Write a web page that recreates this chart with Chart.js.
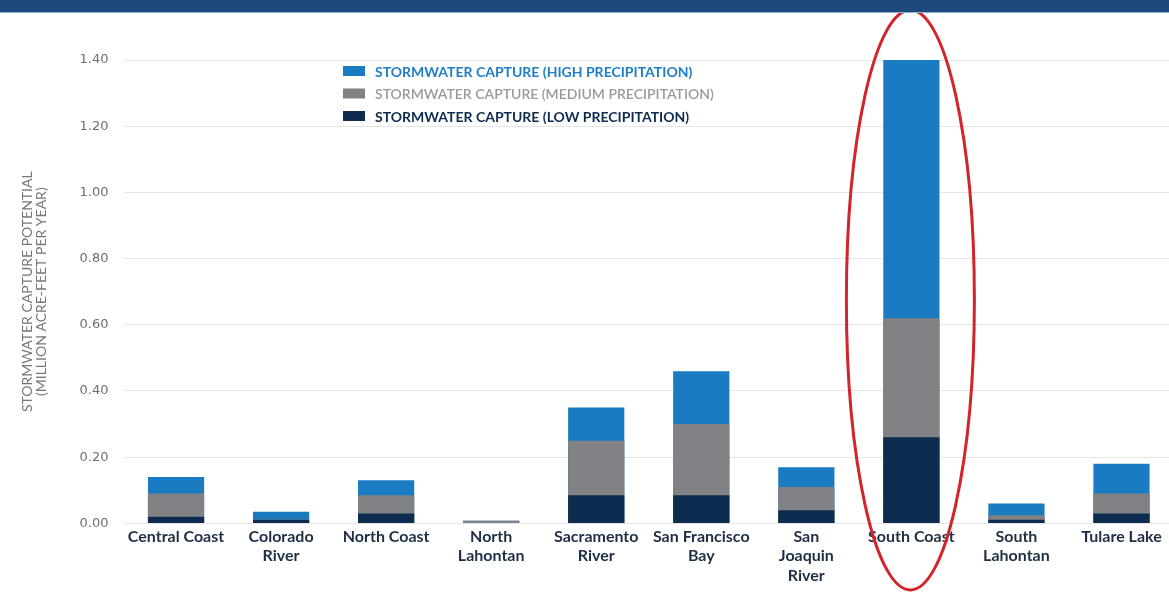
<!DOCTYPE html>
<html>
<head>
<meta charset="utf-8">
<script src="https://cdn.jsdelivr.net/npm/chart.js@4"></script>
<style>
  body { margin: 0; overflow: hidden; background: #fff; }
  #band { position: absolute; left: 0; top: 0; width: 1169px; height: 12px; background: #1c4a7b; border-bottom: 1px solid #8fb1d2; }
  #wrap { position: absolute; left: 0; top: 0; width: 1174px; height: 594px; }
</style>
</head>
<body>
<div id="wrap"><canvas id="chart"></canvas></div>
<div id="band"></div>
<script>
"use strict";

// regions along the x axis
const regions = [
  "Central Coast", ["Colorado", "River"], "North Coast", ["North", "Lahontan"],
  ["Sacramento", "River"], ["San Francisco", "Bay"], ["San", "Joaquin", "River"],
  "South Coast", ["South", "Lahontan"], "Tulare Lake"
];

// million acre-feet per year, each value
const highPrecip = [0.14, 0.035, 0.13, 0.008, 0.35, 0.46, 0.17, 1.40, 0.06, 0.18];
const mediumPrecip = [0.09, 0.012, 0.085, 0.008, 0.25, 0.30, 0.11, 0.62, 0.025, 0.09];
const lowPrecip = [0.02, 0.011, 0.03, 0.001, 0.085, 0.085, 0.04, 0.26, 0.011, 0.03];

const seriesLabels = [
  "STORMWATER CAPTURE (HIGH PRECIPITATION)",
  "STORMWATER CAPTURE (MEDIUM PRECIPITATION)",
  "STORMWATER CAPTURE (LOW PRECIPITATION)"
];
const yTicks = [0, 0.2, 0.4, 0.6, 0.8, 1.0, 1.2, 1.4];

const colours = ["#1b7bc2", "#808285", "#0d2c4f"];
const textColours = ["#1f7fc4", "#9a9a9c", "#0d2c4f"];
const font = "Lato, 'Noto Sans', sans-serif";

// legend drawn inside the plot, plus the red ring round South Coast
const extras = {
  id: "extras",
  afterDraw(chart) {
    const ctx = chart.ctx;
    ctx.save();
    seriesLabels.forEach((label, i) => {
      const y = 71 + i * 22.5;
      ctx.fillStyle = colours[i];
      ctx.fillRect(343, y - 5, 22, 10);
      ctx.fillStyle = textColours[i];
      ctx.font = (i === 1 ? "600 " : "bold ") + "14px " + font;
      ctx.textBaseline = "middle";
      ctx.fillText(label, 375, y + 1);
    });
    const x = chart.scales.x.getPixelForValue(7);
    ctx.strokeStyle = "#d3232b";
    ctx.lineWidth = 3;
    ctx.beginPath();
    ctx.ellipse(x - 1, 300, 64, 290, 0, 0, Math.PI * 2);
    ctx.stroke();
    ctx.restore();
  }
};

// bars overlap: the lowest value is drawn last so it sits on top
const data = {
  labels: regions,
  datasets: [
    { label: seriesLabels[0], data: highPrecip, backgroundColor: colours[0], order: 3 },
    { label: seriesLabels[1], data: mediumPrecip, backgroundColor: colours[1], order: 2 },
    { label: seriesLabels[2], data: lowPrecip, backgroundColor: colours[2], order: 1 }
  ]
};

const config = {
  type: "bar",
  data: data,
  plugins: [extras],
  options: {
    responsive: true,
    maintainAspectRatio: false,
    animation: false,
    layout: { padding: { top: 60, left: 0, right: 0, bottom: 5 } },
    datasets: { bar: { categoryPercentage: 1, barPercentage: 0.535 } },
    plugins: { legend: { display: false }, tooltip: { enabled: false } },
    scales: {
      x: {
        stacked: true,
        grid: { display: false, drawTicks: false },
        border: { display: false },
        ticks: {
          color: "#1e2f45",
          font: { family: font, size: 16, weight: "bold", lineHeight: 1.2 },
          padding: 4,
          maxRotation: 0,
          autoSkip: false
        }
      },
      y: {
        stacked: false,
        min: 0,
        max: 1.4,
        afterBuildTicks: (axis) => { axis.ticks = yTicks.map((v) => ({ value: v })); },
        afterFit: (axis) => { axis.width = 123.5; },
        grid: { color: "#e6e6e6", drawTicks: false },
        border: { display: false },
        ticks: {
          color: "#6f6f6f",
          font: { family: "'DejaVu Sans', sans-serif", size: 13 },
          padding: 15,
          callback: (v) => v.toFixed(2)
        },
        title: {
          display: true,
          text: ["STORMWATER CAPTURE POTENTIAL", "(MILLION ACRE-FEET PER YEAR)"],
          color: "#777",
          font: { family: font, size: 14, lineHeight: 1.0 },
          padding: { top: 20, bottom: 0 }
        }
      }
    }
  }
};

const productChart = document.getElementById("chart");
const myChart = new Chart(productChart, config);
</script>
</body>
</html>
